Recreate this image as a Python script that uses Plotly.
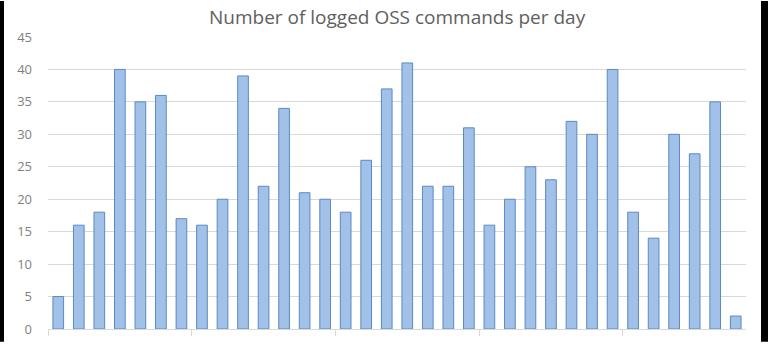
import plotly.graph_objects as go

days = list(range(1, 35))
commands = [5, 16, 18, 40, 35, 36, 17, 16, 20, 39, 22, 34, 21, 20, 18, 26, 37, 41,
            22, 22, 31, 16, 20, 25, 23, 32, 30, 40, 18, 14, 30, 27, 35, 2]
y_ticks = [0, 5, 10, 15, 20, 25, 30, 35, 40, 45]
week_starts = [1, 8, 15, 22, 29]
title_text = "Number of logged OSS commands per day"

W, H = 768, 350
L, R, T, B = 48, 22, 37, 13
pw, ph = W - L - R, H - T - B

fig = go.Figure(go.Bar(
    x=days, y=commands,
    marker=dict(color="#a2c1e9", line=dict(color="#5a89c2", width=1)),
))

fig.update_layout(
    width=W, height=H,
    margin=dict(l=L, r=R, t=T, b=B),
    paper_bgcolor="white", plot_bgcolor="white",
    bargap=0.48,
    showlegend=False,
    font=dict(family="Open Sans, Liberation Sans, sans-serif", color="#7f7f7f"),
    xaxis=dict(
        range=[days[0] - 0.5, days[-1] + 0.5],
        showgrid=False, zeroline=False,
        showline=True, linecolor="#d9d9d9", linewidth=1,
        tickmode="array", tickvals=[d - 0.5 for d in week_starts],
        ticks="outside", ticklen=6, tickcolor="#d9d9d9",
        showticklabels=False,
    ),
    yaxis=dict(
        range=[0, 45], tickvals=y_ticks,
        showgrid=True, gridcolor="#d9d9d9", gridwidth=1,
        zeroline=False, showline=False,
        tickfont=dict(size=13, color="#7f7f7f"),
        ticklabelstandoff=15,
    ),
    annotations=[dict(
        text=title_text, xref="paper", yref="paper",
        x=0.5, y=1, yanchor="bottom", xanchor="center",
        yshift=5, showarrow=False,
        font=dict(size=19, color="#606060"),
    )],
    shapes=[
        dict(type="rect", xref="paper", yref="paper",
             x0=(0 - L) / pw, x1=(4 - L) / pw, y0=-B / ph, y1=1 + T / ph,
             fillcolor="black", line=dict(width=0), layer="above"),
        dict(type="rect", xref="paper", yref="paper",
             x0=(761 - L) / pw, x1=(W - L) / pw, y0=-B / ph, y1=1 + T / ph,
             fillcolor="black", line=dict(width=0), layer="above"),
    ],
)

fig.write_html("out.html")
